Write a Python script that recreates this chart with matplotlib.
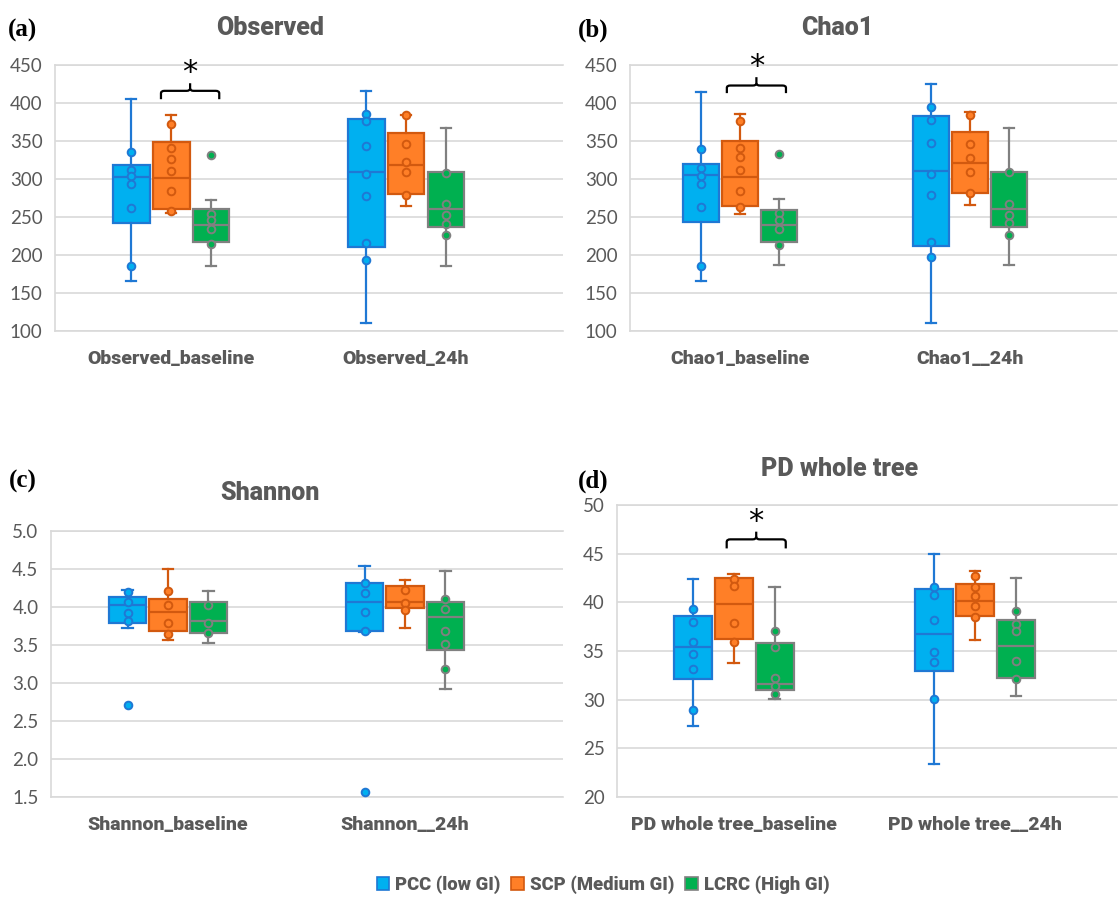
import matplotlib
matplotlib.use("Agg")
import matplotlib.pyplot as plt
from matplotlib.patches import Patch
from matplotlib.path import Path
from matplotlib.patches import PathPatch

plt.rcParams['font.family'] = ['Lato', 'DejaVu Sans']
BOLDFAM = ['Roboto', 'DejaVu Sans']
BW = 'heavy'

# ---------------- data ----------------
groups = ["PCC (low GI)", "SCP (Medium GI)", "LCRC (High GI)"]
# order of each list: baseline PCC, SCP, LCRC, 24h PCC, SCP, LCRC

obs_labels = ["Observed_baseline", "Observed_24h"]
obs_whislo = [166, 255, 186, 110, 264, 186]
obs_q1 = [242.5, 260, 217, 210, 280, 236.5]
obs_med = [302, 301, 240, 309, 318, 260]
obs_q3 = [319, 349, 260, 378.5, 361, 309]
obs_whishi = [405, 384, 273, 416, 384, 367]
obs_points = [
    [336, 312, 304, 293, 262, 185],
    [373, 341, 326, 311, 284, 258],
    [331, 254, 246, 234, 214],
    [385, 376, 343, 306, 278, 216, 193],
    [384, 346, 323, 309, 279],
    [308, 267, 252, 241, 226],
]

chao_labels = ["Chao1_baseline", "Chao1__24h"]
chao_whislo = [166, 254, 187, 110, 266, 187]
chao_q1 = [243, 264.5, 217, 212, 281.5, 237]
chao_med = [305.5, 302, 240, 310.5, 321.5, 260.5]
chao_q3 = [320, 350, 259.5, 382.5, 361.5, 309]
chao_whishi = [414, 385.5, 274, 425, 388.5, 367]
chao_points = [
    [339.5, 314, 304, 294, 263, 185.5],
    [376, 341, 328.5, 312, 284.5, 263],
    [332.5, 255, 246, 234, 213.5],
    [395, 377.5, 348, 306, 279, 217, 198],
    [384, 346, 328, 309.5, 281],
    [309, 267, 252, 241.5, 226],
]

sha_labels = ["Shannon_baseline", "Shannon__24h"]
sha_whislo = [3.73, 3.57, 3.52, 3.67, 3.72, 2.92]
sha_q1 = [3.79, 3.69, 3.66, 3.69, 3.99, 3.43]
sha_med = [4.03, 3.94, 3.82, 4.06, 4.06, 3.87]
sha_q3 = [4.13, 4.11, 4.07, 4.32, 4.27, 4.06]
sha_whishi = [4.22, 4.50, 4.21, 4.535, 4.35, 4.47]
sha_points = [
    [4.20, 4.07, 3.92, 3.81, 2.71],
    [4.21, 4.03, 3.79, 3.64],
    [4.02, 3.79, 3.66],
    [4.31, 4.18, 3.93, 3.69, 1.57],
    [4.22, 4.05, 3.96],
    [4.11, 3.97, 3.68, 3.51, 3.19],
]

pd_labels = ["PD whole tree_baseline", "PD whole tree__24h"]
pd_whislo = [27.3, 33.75, 30.1, 23.4, 36.15, 30.35]
pd_q1 = [32.13, 36.25, 30.97, 32.92, 38.58, 32.24]
pd_med = [35.39, 39.88, 31.66, 36.73, 40.16, 35.53]
pd_q3 = [38.58, 42.46, 35.87, 41.39, 41.87, 38.14]
pd_whishi = [42.4, 42.9, 41.53, 44.93, 43.25, 42.46]
pd_points = [
    [39.27, 38.0, 35.94, 34.67, 33.16, 28.95],
    [42.35, 41.7, 37.83, 35.94],
    [37.07, 35.43, 32.24, 31.41, 30.63],
    [41.6, 40.71, 38.17, 34.88, 33.88, 30.08],
    [42.7, 41.56, 40.64, 39.58, 38.51],
    [39.1, 37.76, 37.04, 33.99, 32.10],
]

# ---------------- styling ----------------
fills = ["#00B0F0", "#FF7F27", "#00B050"]
edges = ["#1F78D4", "#D2590F", "#808080"]
GRAY = "#595959"
GRID = "#D9D9D9"

W, H = 1118, 897
fig = plt.figure(figsize=(W / 100, H / 100), dpi=100)


def px_axes(left, right, top, bottom):
    return fig.add_axes([left / W, 1 - bottom / H, (right - left) / W, (bottom - top) / H])


def draw_panel(ax, labels, whislo, q1, med, q3, whishi, points, ylim, yticks, fmt, xlim):
    off = 0.17
    width = 0.157
    for i in range(6):
        g = i % 3
        cat = i // 3
        x = cat + (g - 1) * off
        stats = [dict(whislo=whislo[i], q1=q1[i], med=med[i], q3=q3[i], whishi=whishi[i], fliers=[])]
        ax.bxp(stats, positions=[x], widths=width, patch_artist=True, showfliers=False,
               capwidths=0.045,
               boxprops=dict(facecolor=fills[g], edgecolor=edges[g], linewidth=1.6),
               medianprops=dict(color=edges[g], linewidth=1.6),
               whiskerprops=dict(color=edges[g], linewidth=1.6),
               capprops=dict(color=edges[g], linewidth=1.6),
               manage_ticks=False, zorder=3)
        ax.plot([x] * len(points[i]), points[i], linestyle='none', marker='o', markersize=5.5,
                markerfacecolor=fills[g], markeredgecolor=edges[g], markeredgewidth=1.4, zorder=4)
    ax.set_xlim(*xlim)
    ax.set_ylim(*ylim)
    ax.set_yticks(yticks)
    ax.set_yticklabels([fmt.format(t) for t in yticks])
    ax.set_xticks([0, 1])
    ax.set_xticklabels(labels, fontsize=14, fontweight=BW, color=GRAY, family=BOLDFAM)
    ax.tick_params(axis='x', length=0, pad=14)
    ax.tick_params(axis='y', length=0, pad=9, labelsize=13.5, labelcolor=GRAY)
    ax.yaxis.grid(True, color=GRID, linewidth=1.2, zorder=0)
    ax.set_axisbelow(True)
    for s in ['top', 'bottom', 'left']:
        ax.spines[s].set_color(GRID)
        ax.spines[s].set_linewidth(1.2)
    ax.spines['right'].set_visible(False)


def brace(ax, x0, x1, y_line, y_end, y_peak, y_star):
    xm = (x0 + x1) / 2
    r = (x1 - x0) * 0.06
    dy = (y_line - y_end)
    verts = [(x0, y_end), (x0, y_line - dy * 0.3), (x0, y_line), (x0 + r, y_line),
             (xm - r, y_line), (xm, y_line), (xm, y_line + dy * 0.3), (xm, y_peak)]
    codes = [Path.MOVETO, Path.LINETO, Path.CURVE3, Path.CURVE3,
             Path.LINETO, Path.CURVE3, Path.CURVE3, Path.LINETO]
    ax.add_patch(PathPatch(Path(verts, codes), fill=False, edgecolor='black', linewidth=1.6,
                           clip_on=False, zorder=5))
    verts2 = [(x1, y_end), (x1, y_line - dy * 0.3), (x1, y_line), (x1 - r, y_line),
              (xm + r, y_line), (xm, y_line), (xm, y_line + dy * 0.3)]
    codes2 = [Path.MOVETO, Path.LINETO, Path.CURVE3, Path.CURVE3,
              Path.LINETO, Path.CURVE3, Path.CURVE3]
    ax.add_patch(PathPatch(Path(verts2, codes2), fill=False, edgecolor='black', linewidth=1.6,
                           clip_on=False, zorder=5))
    ax.text(xm, y_star, "*", ha='center', va='center', fontsize=22, color='black',
            fontfamily='DejaVu Sans', clip_on=False)


ax_a = px_axes(55, 563, 65, 331)
draw_panel(ax_a, obs_labels, obs_whislo, obs_q1, obs_med, obs_q3, obs_whishi, obs_points,
           (100, 450), list(range(100, 451, 50)), "{:d}", (-0.494, 1.668))
brace(ax_a, -0.043, 0.205, 416, 405, 426, 440)

ax_b = px_axes(630, 1117, 65, 331)
draw_panel(ax_b, chao_labels, chao_whislo, chao_q1, chao_med, chao_q3, chao_whishi, chao_points,
           (100, 450), list(range(100, 451, 50)), "{:d}", (-0.478, 1.639))
brace(ax_b, -0.057, 0.2, 423, 413, 434, 448)

ax_c = px_axes(51, 563, 531, 797)
sha_ticks = [1.5, 2.0, 2.5, 3.0, 3.5, 4.0, 4.5, 5.0]
draw_panel(ax_c, sha_labels, sha_whislo, sha_q1, sha_med, sha_q3, sha_whishi, sha_points,
           (1.5, 5.0), sha_ticks, "{:.1f}", (-0.494, 1.667))

ax_d = px_axes(617, 1117, 505, 797)
draw_panel(ax_d, pd_labels, pd_whislo, pd_q1, pd_med, pd_q3, pd_whishi, pd_points,
           (20, 50), list(range(20, 51, 5)), "{:d}", (-0.485, 1.589))
brace(ax_d, -0.03, 0.215, 46.47, 45.54, 47.26, 48.3)

# titles
def ftext(x, y, s, **kw):
    fig.text(x / W, 1 - y / H, s, **kw)

tkw = dict(ha='center', va='center', fontsize=18, fontweight=BW, color=GRAY, family=BOLDFAM)
ftext(270, 28, "Observed", **tkw)
ftext(837, 28, "Chao1", **tkw)
ftext(270, 493, "Shannon", **tkw)
ftext(840, 469, "PD whole tree", **tkw)

serif = dict(fontsize=18, fontweight='bold', color='black', va='center', ha='left',
             fontfamily=['Liberation Serif', 'DejaVu Serif'])
ftext(8, 30, "(a)", **serif)
ftext(578, 30, "(b)", **serif)
ftext(9, 481, "(c)", **serif)
ftext(578, 481, "(d)", **serif)

handles = [Patch(facecolor=fills[k], edgecolor=edges[k], linewidth=1.2) for k in range(3)]
leg = fig.legend(handles, groups, loc='center', bbox_to_anchor=(603 / W, 1 - 885 / H), ncol=3,
                 frameon=False, handlelength=0.7, handleheight=0.7, handletextpad=0.3,
                 columnspacing=0.6, prop=dict(size=13.3, weight=BW, family=BOLDFAM))
for t in leg.get_texts():
    t.set_color(GRAY)

fig.savefig("out.png", dpi=100, facecolor='white')
